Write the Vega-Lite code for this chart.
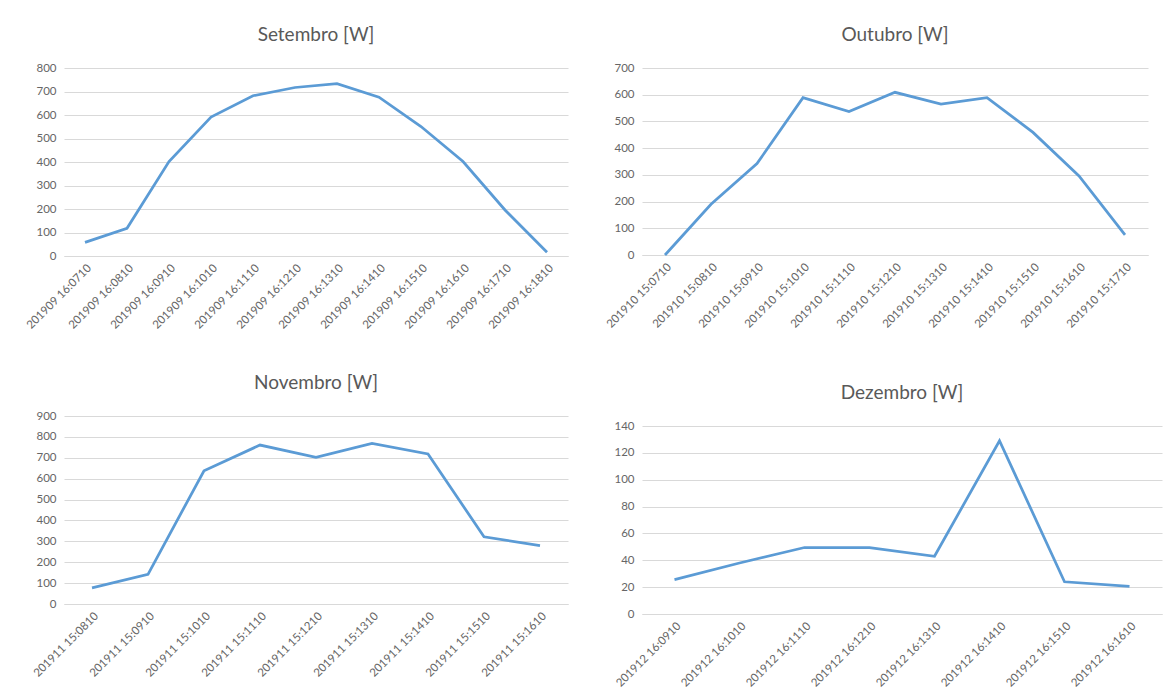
{
  "$schema": "https://vega.github.io/schema/vega-lite/v6.json",
  "background": "white",
  "padding": {"left": 24, "top": 26, "right": 5, "bottom": 5},
  "config": {
    "font": "Lato",
    "view": {"stroke": null},
    "axis": {"labelColor": "#666666", "labelFont": "Lato", "labelFontSize": 11.5, "ticks": false, "gridColor": "#D9D9D9", "domain": false, "title": null},
    "axisX": {"labelAngle": -45, "grid": false, "domain": true, "domainColor": "#D9D9D9", "labelPadding": 6},
    "axisY": {"grid": true, "labelPadding": 8},
    "title": {"fontSize": 19, "fontWeight": "normal", "color": "#595959", "font": "Lato", "offset": 17},
    "line": {"color": "#5B9BD5", "strokeWidth": 2.75}
  },
  "datasets": {
    "set": [
      {"t": "201909 16:0710", "w": 58}, {"t": "201909 16:0810", "w": 118}, {"t": "201909 16:0910", "w": 402},
      {"t": "201909 16:1010", "w": 591}, {"t": "201909 16:1110", "w": 682}, {"t": "201909 16:1210", "w": 717},
      {"t": "201909 16:1310", "w": 733}, {"t": "201909 16:1410", "w": 676}, {"t": "201909 16:1510", "w": 551},
      {"t": "201909 16:1610", "w": 402}, {"t": "201909 16:1710", "w": 196}, {"t": "201909 16:1810", "w": 16}
    ],
    "out": [
      {"t": "201910 15:0710", "w": 0}, {"t": "201910 15:0810", "w": 190}, {"t": "201910 15:0910", "w": 342},
      {"t": "201910 15:1010", "w": 589}, {"t": "201910 15:1110", "w": 537}, {"t": "201910 15:1210", "w": 609},
      {"t": "201910 15:1310", "w": 565}, {"t": "201910 15:1410", "w": 589}, {"t": "201910 15:1510", "w": 459},
      {"t": "201910 15:1610", "w": 296}, {"t": "201910 15:1710", "w": 75}
    ],
    "nov": [
      {"t": "201911 15:0810", "w": 77}, {"t": "201911 15:0910", "w": 142}, {"t": "201911 15:1010", "w": 638},
      {"t": "201911 15:1110", "w": 761}, {"t": "201911 15:1210", "w": 702}, {"t": "201911 15:1310", "w": 769},
      {"t": "201911 15:1410", "w": 718}, {"t": "201911 15:1510", "w": 322}, {"t": "201911 15:1610", "w": 279}
    ],
    "dez": [
      {"t": "201912 16:0910", "w": 25.6}, {"t": "201912 16:1010", "w": 38}, {"t": "201912 16:1110", "w": 49.5},
      {"t": "201912 16:1210", "w": 49.5}, {"t": "201912 16:1310", "w": 43}, {"t": "201912 16:1410", "w": 129},
      {"t": "201912 16:1510", "w": 24}, {"t": "201912 16:1610", "w": 20.5}
    ]
  },
  "spacing": 36,
  "hconcat": [
    {
      "bounds": "flush",
      "spacing": 160,
      "vconcat": [
        {
          "title": "Setembro [W]",
          "width": 504, "height": 188,
          "data": {"name": "set"},
          "mark": {"type": "line"},
          "encoding": {
            "x": {"field": "t", "type": "ordinal", "sort": null},
            "y": {"field": "w", "type": "quantitative", "scale": {"domain": [0, 800], "nice": false}, "axis": {"values": [0,100,200,300,400,500,600,700,800]}}
          }
        },
        {
          "title": "Novembro [W]",
          "width": 504, "height": 188,
          "data": {"name": "nov"},
          "mark": {"type": "line"},
          "encoding": {
            "x": {"field": "t", "type": "ordinal", "sort": null},
            "y": {"field": "w", "type": "quantitative", "scale": {"domain": [0, 900], "nice": false}, "axis": {"values": [0,100,200,300,400,500,600,700,800,900]}}
          }
        }
      ]
    },
    {
      "bounds": "flush",
      "spacing": 171,
      "vconcat": [
        {
          "title": "Outubro [W]",
          "width": 506, "height": 187,
          "data": {"name": "out"},
          "mark": {"type": "line"},
          "encoding": {
            "x": {"field": "t", "type": "ordinal", "sort": null},
            "y": {"field": "w", "type": "quantitative", "scale": {"domain": [0, 700], "nice": false}, "axis": {"values": [0,100,200,300,400,500,600,700]}}
          }
        },
        {
          "title": "Dezembro [W]",
          "width": 520, "height": 188,
          "data": {"name": "dez"},
          "mark": {"type": "line"},
          "encoding": {
            "x": {"field": "t", "type": "ordinal", "sort": null},
            "y": {"field": "w", "type": "quantitative", "scale": {"domain": [0, 140], "nice": false}, "axis": {"values": [0,20,40,60,80,100,120,140]}}
          }
        }
      ]
    }
  ]
}
